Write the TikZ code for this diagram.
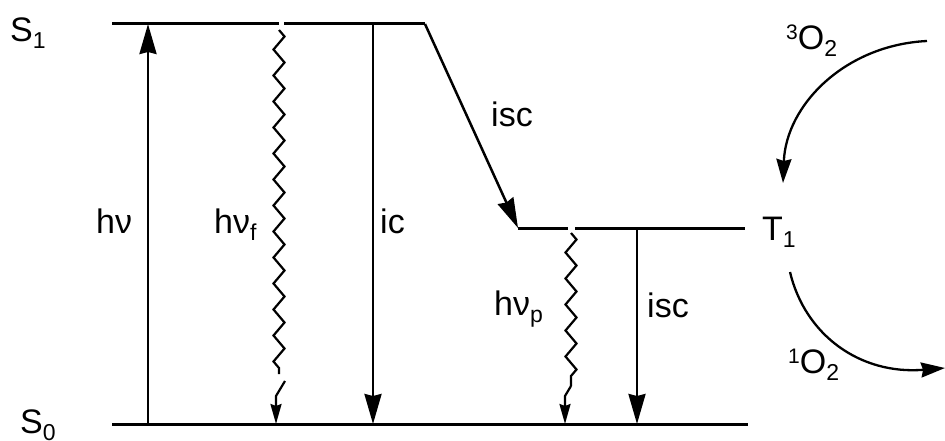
\documentclass[tikz,border=0pt]{standalone}
\usepackage{fontspec}
\setmainfont{Liberation Sans}
\usetikzlibrary{arrows.meta,decorations.pathmorphing}
\newcommand\lsub[1]{\raisebox{-7pt}{\fontsize{23}{26}\selectfont #1}}
\newcommand\lsup[1]{\raisebox{10pt}{\fontsize{21}{24}\selectfont #1}}
\begin{document}
\begin{tikzpicture}[x=1pt,y=-1pt,
  level/.style={line width=3pt},
  trans/.style={line width=2.5pt,-{Stealth[length=30pt,width=17pt,inset=2pt]}},
  smalltip/.style={line width=2.2pt,-{Stealth[length=20pt,width=11pt,inset=2pt]}},
  wavy/.style={line width=2.2pt,decorate,decoration={zigzag,segment length=26pt,amplitude=5.5pt}},
  lbl/.style={anchor=base west,inner sep=0pt,font=\fontsize{34}{40}\selectfont}]
\useasboundingbox (0,0) rectangle (945,441);

% level end points
\coordinate (s1a) at (112,24);
\coordinate (s1b) at (279,24);
\coordinate (s1c) at (284,24);
\coordinate (s1d) at (425,24);
\coordinate (t1a) at (518,228);
\coordinate (t1b) at (568,228);
\coordinate (t1c) at (575,228);
\coordinate (t1d) at (745,228);
\coordinate (s0a) at (112,424);
\coordinate (s0b) at (748,424);

% energy levels
\draw[level] (s1a) -- (s1b);
\draw[level] (s1c) -- (s1d);
\draw[level] (t1a) -- (t1b);
\draw[level] (t1c) -- (t1d);
\draw[level] (s0a) -- (s0b);

% absorption
\coordinate (abs0) at (148,424);
\coordinate (abs1) at (148,24);
\draw[trans] (abs0) -- (abs1);

% fluorescence
\coordinate (fl0) at (279,30);
\coordinate (fl1) at (279,374);
\coordinate (fl2) at (285,381);
\coordinate (fl3) at (276,396);
\coordinate (fl4) at (276,424);
\draw[wavy] (fl0) -- (fl1);
\draw[smalltip] (fl2) -- (fl3) -- (fl4);

% internal conversion
\coordinate (ic0) at (373,24);
\coordinate (ic1) at (373,424);
\draw[trans] (ic0) -- (ic1);

% intersystem crossing S1 -> T1
\draw[trans] (s1d) -- (t1a);

% phosphorescence
\coordinate (ph0) at (571,233);
\coordinate (ph1) at (571,386);
\coordinate (ph2) at (565,396);
\coordinate (ph3) at (565,424);
\draw[wavy] (ph0) -- (ph1);
\draw[smalltip] (ph1) -- (ph2) -- (ph3);

% intersystem crossing T1 -> S0
\coordinate (is0) at (637,228);
\coordinate (is1) at (637,424);
\draw[trans] (is0) -- (is1);

% oxygen quenching
\coordinate (ox0) at (927,41);
\coordinate (ox1) at (783,183);
\coordinate (ox2) at (790,272);
\coordinate (ox3) at (945,368);
\draw[trans,line width=2.3pt,-{Stealth[length=24pt,width=15pt,inset=2pt]}]
  (ox0) .. controls (845,45) and (786,105) .. (ox1);
\draw[trans,line width=2.3pt,-{Stealth[length=24pt,width=15pt,inset=2pt]}]
  (ox2) .. controls (805,335) and (860,375) .. (ox3);

% labels
\node[lbl] (lS1) at (10,42) {S\lsub{1}};
\node[lbl] (lS0) at (20,433) {S\lsub{0}};
\node[lbl] (lT1) at (762,240) {T\lsub{1}};
\node[lbl] (lhv) at (96,233) {hν};
\node[lbl] (lhvf) at (214,233) {hν\lsub{f}};
\node[lbl] (lic) at (380,233) {ic};
\node[lbl] (lisc1) at (491,127) {isc};
\node[lbl] (lhvp) at (494,315) {hν\lsub{p}};
\node[lbl] (lisc2) at (647,317) {isc};
\node[lbl] (lO3) at (786,50) {\lsup{3}O\lsub{2}};
\node[lbl] (lO1) at (788,373) {\lsup{1}O\lsub{2}};
\end{tikzpicture}
\end{document}
